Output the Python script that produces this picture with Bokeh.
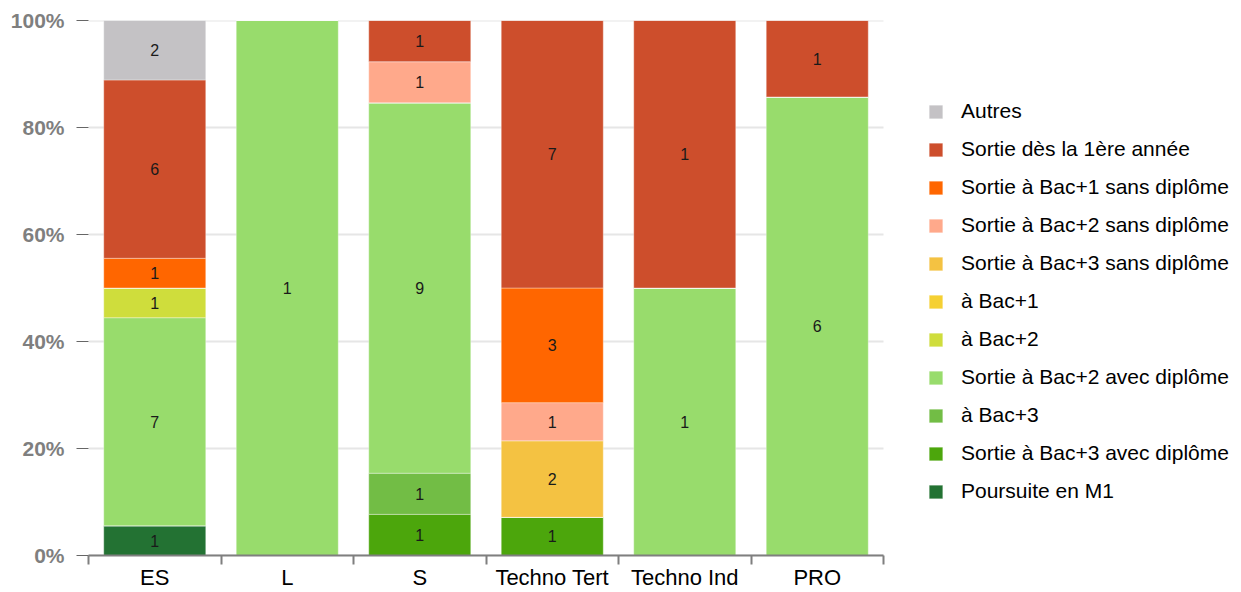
import numpy as np
from bokeh.plotting import figure
from bokeh.models import (ColumnDataSource, Range1d, FixedTicker, PrintfTickFormatter,
                          Legend, LegendItem)
from bokeh.core.properties import value
from bokeh.embed import file_html
from bokeh.resources import INLINE

categories = ["ES", "L", "S", "Techno Tert", "Techno Ind", "PRO"]

series = ["Poursuite en M1", "Sortie à Bac+3 avec diplôme", "à Bac+3",
          "Sortie à Bac+2 avec diplôme", "à Bac+2", "à Bac+1",
          "Sortie à Bac+3 sans diplôme", "Sortie à Bac+2 sans diplôme",
          "Sortie à Bac+1 sans diplôme", "Sortie dès la 1ère année", "Autres"]

poursuite_m1      = [1, 0, 0, 0, 0, 0]
bac3_avec         = [0, 0, 1, 1, 0, 0]
a_bac3            = [0, 0, 1, 0, 0, 0]
bac2_avec         = [7, 1, 9, 0, 1, 6]
a_bac2            = [1, 0, 0, 0, 0, 0]
a_bac1            = [0, 0, 0, 0, 0, 0]
bac3_sans         = [0, 0, 0, 2, 0, 0]
bac2_sans         = [0, 0, 1, 1, 0, 0]
bac1_sans         = [1, 0, 0, 3, 0, 0]
sortie_1ere       = [6, 0, 1, 7, 1, 1]
autres            = [2, 0, 0, 0, 0, 0]

colors = ["#237233", "#4ca60c", "#72bd45", "#98dc6c", "#cfdd3c", "#f5d033",
          "#f4c242", "#ffa98b", "#ff6600", "#cd4e2c", "#c4c2c5"]

y_ticks = [0, 20, 40, 60, 80, 100]

counts = np.array([poursuite_m1, bac3_avec, a_bac3, bac2_avec, a_bac2, a_bac1,
                   bac3_sans, bac2_sans, bac1_sans, sortie_1ere, autres], dtype=float)
totals = counts.sum(axis=0)
pct = counts / totals * 100.0

ncat = len(categories)
x = np.arange(ncat) + 0.5
keys = [f"s{i}" for i in range(len(series))]
data = {"x": x}
for k, row in zip(keys, pct):
    data[k] = row
source = ColumnDataSource(data)

W, H = 1236, 592
LEFT, TOP = 88, 20
FRAME_W = W - LEFT
BAR_AREA_W = 795  # pixel width occupied by the categories
x_end = ncat * FRAME_W / BAR_AREA_W

p = figure(width=W, height=H, output_backend="svg", toolbar_location=None,
           x_range=Range1d(0, x_end), y_range=Range1d(0, 100),
           min_border_left=LEFT, min_border_right=0, min_border_top=TOP, min_border_bottom=0)
p.outline_line_color = None
p.background_fill_color = "white"
p.border_fill_color = "white"

# horizontal grid lines limited to the category area
p.segment(x0=[0] * len(y_ticks), x1=[ncat] * len(y_ticks), y0=y_ticks, y1=y_ticks,
          line_color="#e6e6e6", line_width=2)

renderers = p.vbar_stack(keys, x="x", width=0.77, color=colors, source=source,
                         line_color="white", line_alpha=0.35, line_width=1)

# value labels
lx, ly, lt = [], [], []
bottoms = np.zeros(ncat)
for i in range(len(series)):
    for j in range(ncat):
        if counts[i, j] > 0:
            lx.append(x[j])
            ly.append(bottoms[j] + pct[i, j] / 2)
            lt.append(str(int(counts[i, j])))
    bottoms = bottoms + pct[i]
p.text(x=lx, y=ly, text=lt, text_align="center", text_baseline="middle",
       text_font=value("Liberation Sans"), text_font_size="16px", text_color="#1a1a1a")

# y axis
p.yaxis.ticker = FixedTicker(ticks=y_ticks)
p.yaxis.formatter = PrintfTickFormatter(format="%d%%")
p.yaxis.axis_line_color = None
p.yaxis.major_tick_line_color = "#666666"
p.yaxis.major_tick_line_width = 1
p.yaxis.major_tick_out = 12
p.yaxis.major_tick_in = 0
p.yaxis.minor_tick_line_color = None
p.yaxis.major_label_text_font = "Liberation Sans"
p.yaxis.major_label_text_font_style = "bold"
p.yaxis.major_label_text_font_size = "21px"
p.yaxis.major_label_text_color = "#7f7f7f"
p.yaxis.major_label_standoff = 12

p.ygrid.grid_line_color = None
p.xgrid.grid_line_color = None

# x axis: labels at centers, tick marks at category boundaries
p.xaxis.bounds = (0, ncat)
p.xaxis.ticker = FixedTicker(ticks=list(x), minor_ticks=list(range(ncat + 1)))
p.xaxis.major_label_overrides = {float(xx): c for xx, c in zip(x, categories)}
p.xaxis.major_tick_out = 0
p.xaxis.major_tick_in = 0
p.xaxis.minor_tick_out = 9
p.xaxis.minor_tick_in = 0
p.xaxis.minor_tick_line_color = "#7f7f7f"
p.xaxis.minor_tick_line_width = 2
p.xaxis.axis_line_color = "#7f7f7f"
p.xaxis.axis_line_width = 2
p.xaxis.major_label_text_font = "Liberation Sans"
p.xaxis.major_label_text_font_size = "22px"
p.xaxis.major_label_text_color = "#000000"
p.xaxis.major_label_standoff = 0

items = [LegendItem(label=name, renderers=[r]) for name, r in zip(series, renderers)]
items.reverse()
legend = Legend(items=items, location=(839, 52), orientation="vertical",
                label_text_font="Liberation Sans", label_text_font_size="21px",
                label_text_color="#000000", glyph_width=17, glyph_height=17,
                label_standoff=17, spacing=14, padding=0, margin=0,
                border_line_color=None, background_fill_alpha=0)
p.add_layout(legend, "center")

open("out.html", "w").write(file_html(p, INLINE))
